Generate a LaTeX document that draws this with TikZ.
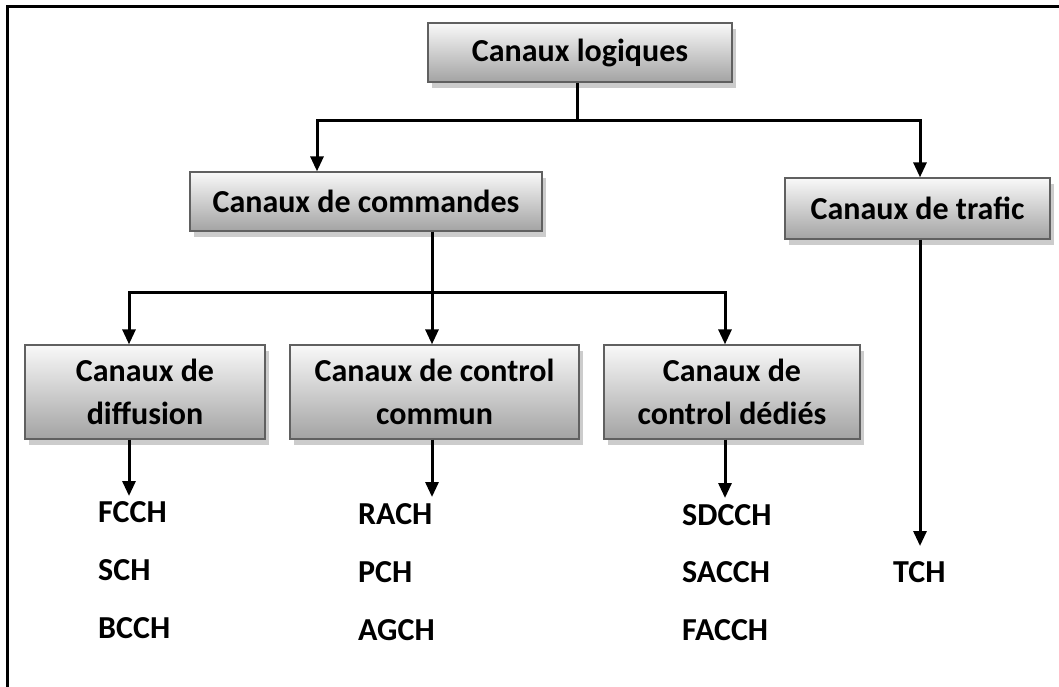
\documentclass[tikz,border=0pt]{standalone}
\usepackage{fontspec}
\setmainfont{Carlito}
\usetikzlibrary{arrows.meta,shadows}
\begin{document}
\begin{tikzpicture}[x=1pt,y=-1pt,
  box/.style={draw=gray!75!black, line width=1.3pt, top color=gray!5, bottom color=gray!72,
    font=\bfseries\fontsize{32}{43}\selectfont, align=center, inner sep=0pt,
    drop shadow={shadow xshift=4pt, shadow yshift=-6pt, fill=gray!40, opacity=1}},
  lbl/.style={font=\bfseries\fontsize{32}{37}\selectfont, anchor=west, inner sep=0pt},
  link/.style={line width=3pt, -{Triangle[width=13pt,length=15pt]}},
  plain/.style={line width=3pt}]
\useasboundingbox (0,0) rectangle (1059,686);
% outer frame (only the top and left edges fall inside the page)
\begin{scope}
\clip (0,0) rectangle (1059,686);
\draw[line width=3pt] (7,6) rectangle (1070,700);
\end{scope}

% boxes
\node[box, minimum width=304pt, minimum height=59pt] (L) at (580,52.5) {Canaux logiques};
\node[box, minimum width=352pt, minimum height=59pt] (C) at (366,201.5) {Canaux de commandes};
\node[box, minimum width=265pt, minimum height=61pt] (T) at (917.5,208.5) {Canaux de trafic};
\node[box, minimum width=240pt, minimum height=94pt] (D) at (145,392) {Canaux de\\diffusion};
\node[box, minimum width=289pt, minimum height=94pt] (M) at (434.5,392) {Canaux de control\\commun};
\node[box, minimum width=256pt, minimum height=94pt] (S) at (732,392) {Canaux de\\control dédiés};

% junction points and arrow ends
\coordinate (j1) at (577,120);
\coordinate (xc) at (317,120);
\coordinate (xt) at (920,120);
\coordinate (j2) at (432,292);
\coordinate (xd) at (129,292);
\coordinate (xs) at (725,292);
\coordinate (ed) at (129,496);
\coordinate (em) at (432,497);
\coordinate (es) at (725,498);
\coordinate (et) at (920,546);

% leaf labels
\node[lbl] (fcch) at (98,512) {FCCH};
\node[lbl] (sch) at (98,570) {SCH};
\node[lbl] (bcch) at (98,628) {BCCH};
\node[lbl] (rach) at (358,514) {RACH};
\node[lbl] (pch) at (358,572) {PCH};
\node[lbl] (agch) at (358,630) {AGCH};
\node[lbl] (sdcch) at (682,515) {SDCCH};
\node[lbl] (sacch) at (682,572) {SACCH};
\node[lbl] (facch) at (682,630) {FACCH};
\node[lbl] (tch) at (893,572) {TCH};

% connectors
\draw[plain] (L.south -| j1) -- (j1);
\draw[link] (j1) -| (C.north -| xc);
\draw[link] (j1) -| (T.north -| xt);
\draw[plain] (C.south -| j2) -- (j2);
\draw[link] (j2) -| (D.north -| xd);
\draw[link] (j2) -- (M.north -| j2);
\draw[link] (j2) -| (S.north -| xs);
\draw[link] (D.south -| xd) -- (ed);
\draw[link] (M.south -| j2) -- (em);
\draw[link] (S.south -| xs) -- (es);
\draw[link] (T.south -| xt) -- (et);
\end{tikzpicture}
\end{document}
